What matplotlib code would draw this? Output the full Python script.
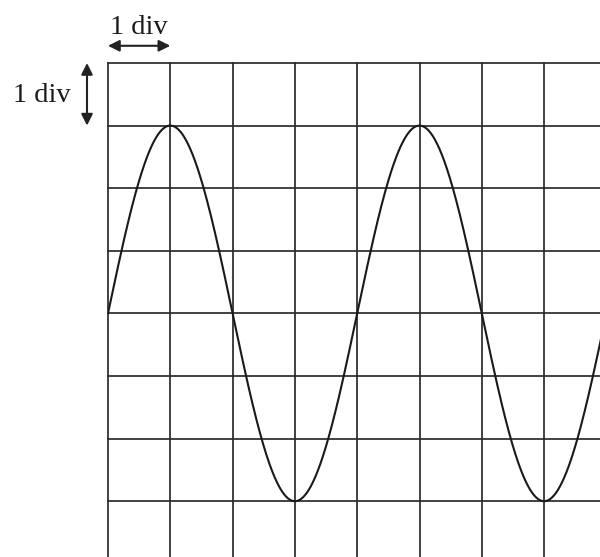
import matplotlib.pyplot as plt
import numpy as np

# Oscilloscope screen (units: divisions)
n_div_x = 8
n_div_y = 8
amplitude_div = 3.0      # peak 3 div above centre
period_div = 4.0         # one cycle over 4 div
centre_line = 0.0
div_label = "1 div"

fig = plt.figure(figsize=(6.0, 5.57), dpi=100)
ax = fig.add_axes([108 / 600, 0, 492 / 600, 494 / 557])

# Grid of divisions (not clipped, so the outer border keeps full width)
for gx in range(0, n_div_x + 1):
    ax.axvline(gx, color="#2a2a2a", lw=1.25, zorder=1, clip_on=False)
for gy in range(-n_div_y // 2, n_div_y // 2 + 1):
    ax.axhline(gy, color="#2a2a2a", lw=1.25, zorder=1, clip_on=False)

# Trace
t = np.linspace(0, n_div_x, 800)
ax.plot(t, centre_line + amplitude_div * np.sin(2 * np.pi * t / period_div),
        color="#1a1a1a", lw=1.5, zorder=2)

ax.set_xlim(0, 492 / 62.3)
ax.set_ylim(4 - 494 / 62.6, 4)
ax.axis("off")

# "1 div" scale markers
serif = "Liberation Serif"
arrow_kw = dict(arrowstyle="<|-|>", color="#222222", lw=1.5,
                mutation_scale=17, shrinkA=0, shrinkB=0)
ax.annotate("", xy=(0, 4.275), xytext=(1, 4.275), annotation_clip=False,
            arrowprops=arrow_kw)
ax.text(0.5, 4.47, div_label, ha="center", va="baseline", fontsize=20.5,
        family=serif, color="#1a1a1a", clip_on=False)

ax.annotate("", xy=(-0.337, 4), xytext=(-0.337, 3), annotation_clip=False,
            arrowprops=arrow_kw)
ax.text(-0.594, 3.38, div_label, ha="right", va="baseline", fontsize=20.5,
        family=serif, color="#1a1a1a", clip_on=False)

fig.savefig("out.png", dpi=100)
